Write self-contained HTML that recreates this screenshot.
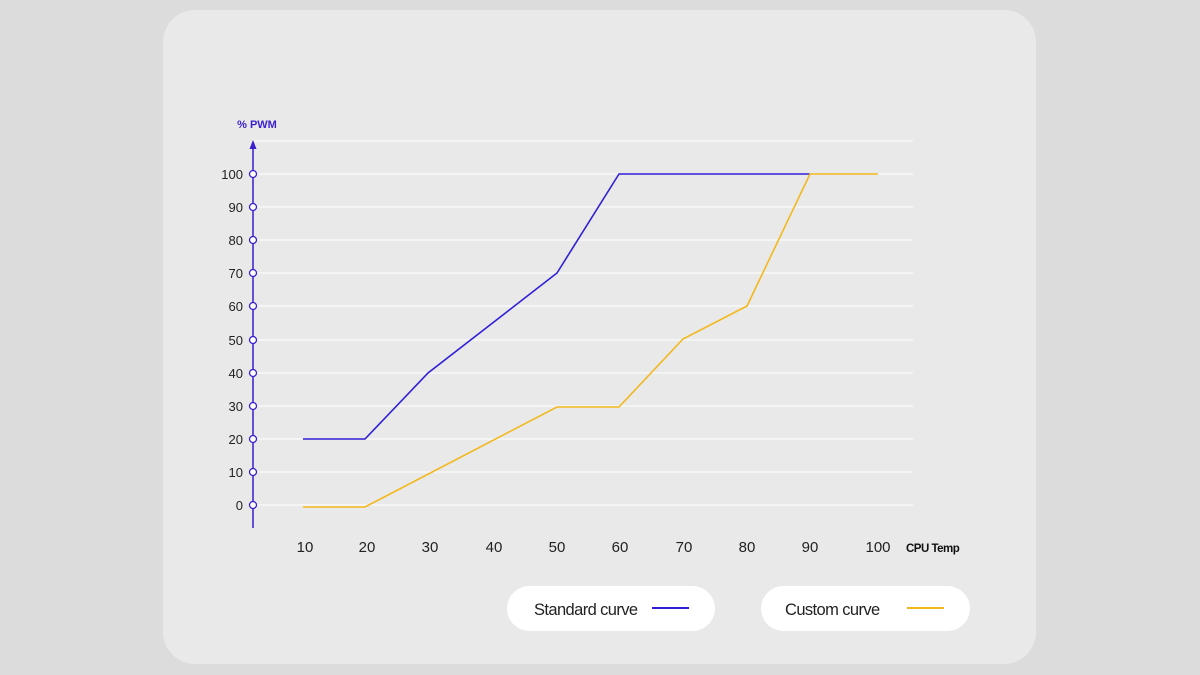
<!DOCTYPE html>
<html><head><style>
body{margin:0;width:1200px;height:675px;background:#dcdcdc;overflow:hidden;font-family:"Liberation Sans",sans-serif}
</style></head><body>
<svg width="1200" height="675" xmlns="http://www.w3.org/2000/svg" style="position:absolute;left:0;top:0">
<rect x="163" y="10" width="873" height="654" rx="32" fill="#e9e9e9"/>
<g stroke="#fafafa" stroke-width="1.2">
<line x1="253" x2="913" y1="141" y2="141"/>
<line x1="253" x2="913" y1="174" y2="174"/>
<line x1="253" x2="913" y1="207" y2="207"/>
<line x1="253" x2="913" y1="240" y2="240"/>
<line x1="253" x2="913" y1="273" y2="273"/>
<line x1="253" x2="913" y1="306" y2="306"/>
<line x1="253" x2="913" y1="340" y2="340"/>
<line x1="253" x2="913" y1="373" y2="373"/>
<line x1="253" x2="913" y1="406" y2="406"/>
<line x1="253" x2="913" y1="439" y2="439"/>
<line x1="253" x2="913" y1="472" y2="472"/>
<line x1="253" x2="913" y1="505" y2="505"/>
</g>
<line x1="253" y1="142" x2="253" y2="528" stroke="#3a1fd0" stroke-width="1.5"/>
<path d="M249.5,149 L253,140 L256.5,149 Z" fill="#3a1fd0"/>
<g fill="#fff" stroke="#3a1fd0" stroke-width="1.3">
<circle cx="253" cy="174" r="3.5"/><circle cx="253" cy="207" r="3.5"/><circle cx="253" cy="240" r="3.5"/>
<circle cx="253" cy="273" r="3.5"/><circle cx="253" cy="306" r="3.5"/><circle cx="253" cy="340" r="3.5"/>
<circle cx="253" cy="373" r="3.5"/><circle cx="253" cy="406" r="3.5"/><circle cx="253" cy="439" r="3.5"/>
<circle cx="253" cy="472" r="3.5"/><circle cx="253" cy="505" r="3.5"/>
</g>
<text x="257" y="128" font-size="11" font-weight="bold" fill="#3a1fd0" text-anchor="middle">% PWM</text>
<g font-size="13" fill="#222" text-anchor="end">
<text x="243" y="179">100</text><text x="243" y="212">90</text><text x="243" y="245">80</text>
<text x="243" y="278">70</text><text x="243" y="311">60</text><text x="243" y="345">50</text>
<text x="243" y="378">40</text><text x="243" y="411">30</text><text x="243" y="444">20</text>
<text x="243" y="477">10</text><text x="243" y="510">0</text>
</g>
<g font-size="15" fill="#222" text-anchor="middle">
<text x="305" y="552">10</text><text x="367" y="552">20</text><text x="430" y="552">30</text>
<text x="494" y="552">40</text><text x="557" y="552">50</text><text x="620" y="552">60</text>
<text x="684" y="552">70</text><text x="747" y="552">80</text><text x="810" y="552">90</text>
<text x="878" y="552">100</text>
</g>
<text x="906" y="552" font-size="11.5" font-weight="bold" fill="#111" letter-spacing="-0.5">CPU Temp</text>
<polyline points="303,439 365,439 428,373 557,273 619,174 810,174" fill="none" stroke="#2f1fd6" stroke-width="1.6"/>
<polyline points="303,507 365,507 557,407 619,407 683,339 747,306 810,174 878,174" fill="none" stroke="#f2b81c" stroke-width="1.6"/>
<rect x="507" y="586" width="208" height="45" rx="22.5" fill="#fff"/>
<text x="534" y="615" font-size="16.5" fill="#222" letter-spacing="-0.6">Standard curve</text>
<line x1="652" x2="689" y1="608" y2="608" stroke="#2f1fd6" stroke-width="2"/>
<rect x="761" y="586" width="209" height="45" rx="22.5" fill="#fff"/>
<text x="785" y="615" font-size="16.5" fill="#222" letter-spacing="-0.6">Custom curve</text>
<line x1="907" x2="944" y1="608" y2="608" stroke="#f2b81c" stroke-width="2"/>
</svg>
</body></html>
